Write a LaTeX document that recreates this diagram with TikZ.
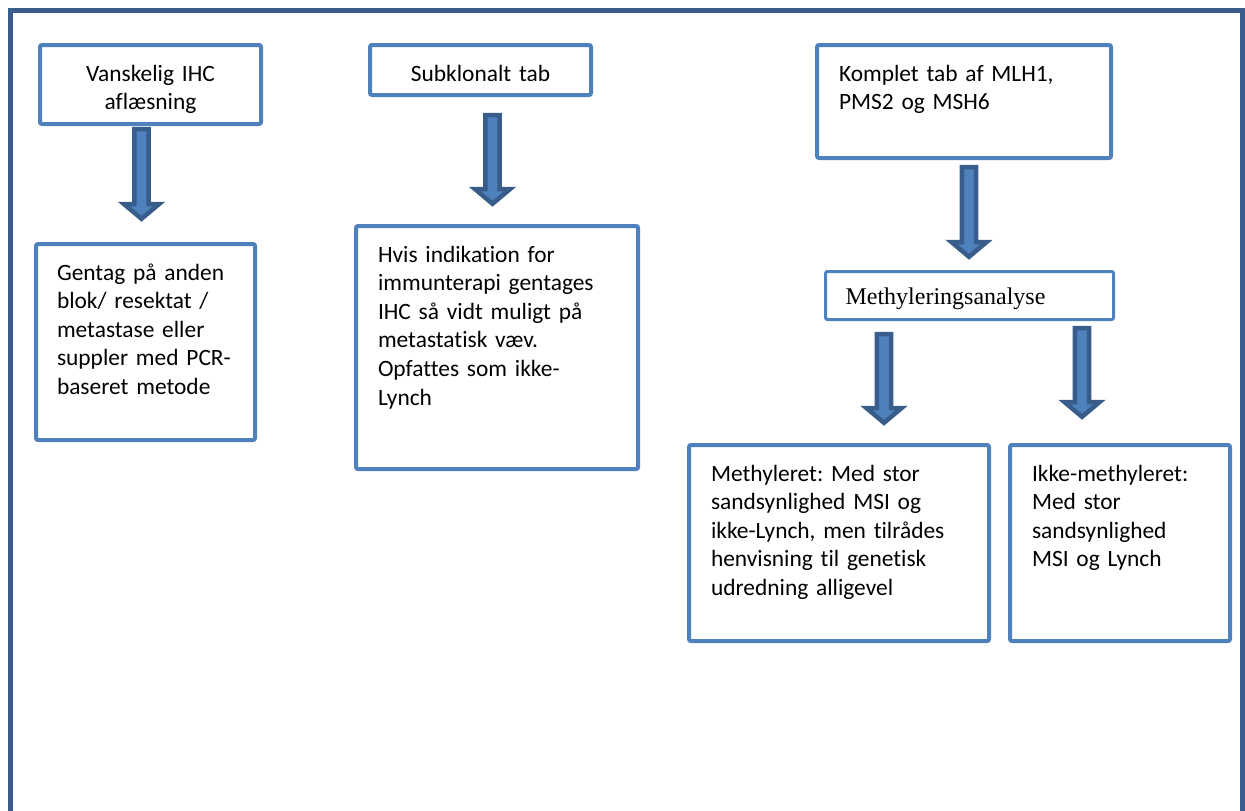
\documentclass[tikz,border=0pt]{standalone}
\usepackage{fontspec}
\setmainfont{Carlito}[RawFeature={-liga;-clig;-calt;-dlig}]
\newfontfamily\timesfont{Liberation Serif}
\usepackage{tikz}
\usetikzlibrary{calc}
\definecolor{boxblue}{RGB}{79,129,189}
\definecolor{arrowdark}{RGB}{56,93,138}
\definecolor{framedark}{RGB}{58,94,140}
\frenchspacing

% block arrow from a start point down to a tip
\newcommand{\blockarrow}[2]{%
  \draw[blockarrow] let \p1=#1, \p2=#2 in
    (\x1-3.6pt,\y1-1.1pt) -- (\x1-3.6pt,\y2+9pt) -- (\x1-8.8pt,\y2+9pt) --
    (\x1,\y2+1.6pt) -- (\x1+8.8pt,\y2+9pt) -- (\x1+3.6pt,\y2+9pt) --
    (\x1+3.6pt,\y1-1.1pt) -- cycle;}

\begin{document}
\begin{tikzpicture}[x=0.5pt, y=-0.5pt,
    box/.style={rectangle, draw=boxblue, line width=2pt, rounded corners=1pt, fill=white,
      anchor=north west, outer sep=0pt, inner xsep=11pt, inner ysep=0pt, text height=18pt,
      font=\fontsize{11.7}{14.3}\selectfont},
    leftbox/.style={box, align=left},
    midbox/.style={box, align=center},
    blockarrow/.style={draw=arrowdark, fill=boxblue, line width=2.25pt, line join=miter}
]
\useasboundingbox (0,0) rectangle (1245,810);
\draw[framedark, line width=2.5pt] (10.5,10.5) rectangle (1242.5,850);

% Left column
\node[midbox, text width=88.5pt, text depth=21.5pt] (vansk) at (40,45) {Vanskelig IHC\\aflæsning};
\node[leftbox, inner xsep=10.5pt, text width=88.5pt, text depth=80pt] (gentag) at (36,244)
  {Gentag på anden\\blok/ resektat /\\metastase eller\\suppler med PCR-\\baseret metode};

% Middle column
\node[midbox, text width=88.5pt, text depth=7pt] (subklon) at (370,45) {Subklonalt tab};
\node[leftbox, text width=119pt, text depth=103.5pt] (immun) at (356,226)
  {Hvis indikation for\\immunterapi gentages\\IHC så vidt muligt på\\metastatisk væv.\\Opfattes som ikke-\\Lynch};

% Right column
\node[leftbox, text width=125pt, text depth=38.5pt] (komplet) at (817,45) {Komplet tab af MLH1,\\PMS2 og MSH6};
\node[leftbox, line width=1.5pt, inner xsep=10pt, text width=124pt, text height=16.25pt, text depth=7.75pt,
  font=\timesfont\fontsize{12}{14}\selectfont] (methan) at (825.5,271.5) {Methyleringsanalyse};
\node[leftbox, text width=128pt, text depth=80pt] (methyl) at (689,445)
  {Methyleret: Med stor\\sandsynlighed MSI og\\ikke-Lynch, men tilrådes\\henvisning til genetisk\\udredning alligevel};
\node[leftbox, text width=88pt, text depth=80pt] (ikkemethyl) at (1010,445)
  {Ikke-methyleret:\\Med stor\\sandsynlighed\\MSI og Lynch};

% Arrows
\blockarrow{([xshift=-4.5pt,yshift=-1.5pt]vansk.south)}{([yshift=11pt]gentag.north)}
\blockarrow{([xshift=6pt,yshift=-9pt]subklon.south)}{([yshift=9.5pt]immun.north)}
\blockarrow{([xshift=2.5pt,yshift=-3.5pt]komplet.south)}{([yshift=5.75pt]methan.north)}
\blockarrow{([xshift=-42.75pt,yshift=-6.25pt]methan.south)}{([yshift=9.5pt]methyl.north)}
\blockarrow{([xshift=56.25pt,yshift=-3.25pt]methan.south)}{([yshift=12.5pt]ikkemethyl.north)}
\end{tikzpicture}
\end{document}
